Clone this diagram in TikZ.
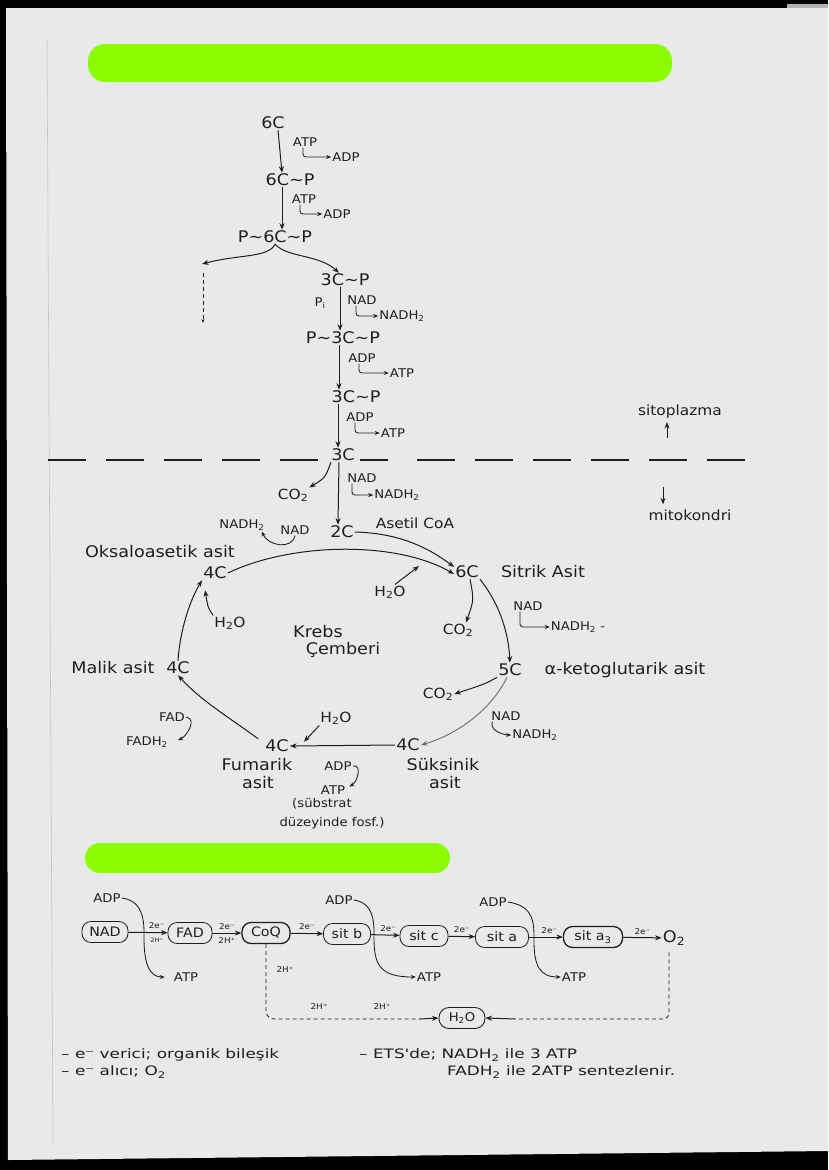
\documentclass[tikz,border=0pt]{standalone}
\usepackage{fontspec}
\setmainfont{DejaVu Sans}[FakeStretch=1.1]
\newfontfamily\widefont{DejaVu Sans}[FakeStretch=1.3]
\usetikzlibrary{arrows.meta}
\definecolor{ink}{RGB}{30,30,30}
\definecolor{page}{RGB}{233,233,233}
\definecolor{hl}{RGB}{140,252,0}
\definecolor{grayarc}{RGB}{115,115,115}
\tikzset{
  ar/.style={draw=ink, line width=1pt, -{Stealth[length=6.5pt,width=5pt]}},
  hk/.style={draw=ink, line width=0.85pt, -{Stealth[length=5pt,width=4pt]}, rounded corners=3pt},
  dsh/.style={draw=ink, line width=0.8pt, dash pattern=on 4pt off 3pt},
  lb/.style={text=ink, inner sep=1pt, font=\fontsize{16}{18}\selectfont},
  mdl/.style={text=ink, inner sep=1pt, font=\fontsize{14}{16}\selectfont},
  sm/.style={text=ink, inner sep=1pt, font=\fontsize{12}{14}\selectfont},
  tn/.style={text=ink, inner sep=1pt, font=\fontsize{8}{9}\selectfont},
  bt/.style={text=ink, inner sep=1pt, font=\widefont\fontsize{13}{15}\selectfont},
  ebox/.style={draw=ink, line width=0.8pt, rounded corners=9pt, minimum height=21pt,
    inner xsep=3pt, inner ysep=1pt, text=ink, font=\fontsize{13}{15}\selectfont},
}
\begin{document}
\begin{tikzpicture}[x=1pt,y=-1pt]
\useasboundingbox (0,0) rectangle (828,1170);
% photo frame and page
\fill[black] (0,0) rectangle (828,1170);
\fill[page] (6,8) -- (828,8) -- (828,1151) -- (8,1160) -- cycle;
\fill[gray!60] (787,4) rectangle (828,8);
\draw[gray!45, line width=0.6pt] (47,40) -- (53,1143);
% highlighter bars
\fill[hl, rounded corners=17pt] (88,44) rectangle (672,82);
\fill[hl, rounded corners=15pt] (85,843) rectangle (450,873);

% ---------- glycolysis ----------
\node[lb] (g1) at (273,123) {6C};
\node[sm] (atp1) at (305,142) {ATP};
\node[sm] (adp1) at (346,157) {ADP};
\node[lb] (g2) at (290,180) {6C∼P};
\node[sm] (atp2) at (304,199) {ATP};
\node[sm] (adp2) at (337,214) {ADP};
\node[lb] (g3) at (275,237) {P∼6C∼P};
\draw[ar] ([xshift=5pt]g1.south) -- ([xshift=-8pt]g2.north);
\draw[hk] ([xshift=-2pt]atp1.south) |- (adp1.west);
\draw[ar] ([xshift=-8pt]g2.south) -- ([xshift=7pt]g3.north);
\draw[hk] ([xshift=-4pt]atp2.south) |- (adp2.west);

\node[lb] (c1) at (345,280) {3C∼P};
\coordinate (bl) at (202,264);
\coordinate (dl0) at (203,273);
\coordinate (dl) at (203,323);
\draw[ar] (g3.south) .. controls (268,258) and (240,254) .. (bl);
\draw[ar] (g3.south) .. controls (288,258) and (318,254) .. ([xshift=-6pt]c1.north);
\draw[dsh, -{Stealth[length=4pt,width=3pt]}] (dl0) -- (dl);

\node[sm] (pi) at (320,303) {P\textsubscript{i}};
\node[sm] (nad1) at (362,300) {NAD};
\node[sm] (nadh1) at (402,316) {NADH\textsubscript{2}};
\node[lb] (c2) at (343,338) {P∼3C∼P};
\node[sm] (adp3) at (362,358) {ADP};
\node[sm] (atp3) at (402,373) {ATP};
\node[lb] (c3) at (356,397) {3C∼P};
\node[sm] (adp4) at (360,417) {ADP};
\node[sm] (atp4) at (393,433) {ATP};
\node[lb] (c4) at (343,455) {3C};
\draw[ar] ([xshift=-5pt]c1.south) -- ([xshift=-3pt]c2.north);
\draw[hk] ([xshift=-6pt]nad1.south) |- (nadh1.west);
\draw[ar] ([xshift=-4pt]c2.south) -- ([xshift=-17pt]c3.north);
\draw[hk] ([xshift=-3pt]adp3.south) |- (atp3.west);
\draw[ar] ([xshift=-18pt]c3.south) -- ([xshift=-5pt]c4.north);
\draw[hk] ([xshift=-5pt]adp4.south) |- (atp4.west);

% cytoplasm / mitochondria boundary
\draw[ink, line width=1.1pt, dash pattern=on 38pt off 20pt] (48,460) -- (320,460);
\draw[ink, line width=1.1pt] (360,460) -- (388,460);
\draw[ink, line width=1.1pt, dash pattern=on 38pt off 20pt] (417,460) -- (745,460);
\node[mdl] (sito) at (680,412) {sitoplazma};
\node[mdl] (mito) at (690,515) {mitokondri};
\draw[ar] ([xshift=-13pt,yshift=-18pt]sito.south) -- ([xshift=-13pt,yshift=-2pt]sito.south);
\draw[ar] ([xshift=-27pt,yshift=21pt]mito.north) -- ([xshift=-27pt,yshift=4pt]mito.north);

% ---------- pyruvate to acetyl CoA ----------
\node[mdl] (co2a) at (293,495) {CO\textsubscript{2}};
\node[sm] (nad2) at (362,478) {NAD};
\node[sm] (nadh2) at (397,495) {NADH\textsubscript{2}};
\node[lb] (c5) at (342,532) {2C};
\draw[ar] ([xshift=-4pt]c4.south) -- ([xshift=-4pt]c5.north);
\draw[ar] ([xshift=-12pt]c4.south) .. controls (325,478) .. (co2a.north east);
\draw[hk] ([xshift=-10pt]nad2.south) |- (nadh2.west);
\node[sm] (nad3) at (295,530) {NAD};
\node[sm] (nadh3) at (242,525) {NADH\textsubscript{2}};
\draw[hk] (nad3.south) .. controls (292,550) and (268,546) .. ([xshift=-4pt]nadh3.south east);
\node[mdl] (acoa) at (415,523) {Asetil CoA};

% ---------- Krebs cycle ----------
\node[lb] (oaa) at (160,552) {Oksaloasetik asit};
\node[lb] (k1) at (215,573) {4C};
\node[lb] (k6) at (467,572) {6C};
\node[lb] (sitrik) at (543,572) {Sitrik Asit};
\draw[ar] (c5.east) .. controls (395,533) and (425,545) .. ([yshift=5pt]k6.west);
\draw[ar] (k1.east) .. controls (290,543) and (395,540) .. ([yshift=-2pt]k6.west);
\node[mdl] (w1) at (390,592) {H\textsubscript{2}O};
\coordinate (w1t) at (419,566);
\draw[ar] ([xshift=5pt]w1.north) -- (w1t);
\node[mdl] (co2b) at (458,630) {CO\textsubscript{2}};
\draw[ar] ([xshift=3pt]k6.south) .. controls (474,600) .. ([xshift=8pt]co2b.north);
\node[lb] (k5) at (510,670) {5C};
\node[lb] (akg) at (625,670) {α-ketoglutarik asit};
\draw[ar] (k6.south east) .. controls (495,598) and (508,625) .. (k5.north);
\node[sm] (nad4) at (528,606) {NAD};
\node[sm] (nadh4) at (578,627) {NADH\textsubscript{2} -};
\draw[hk] ([xshift=-8pt]nad4.south) |- (nadh4.west);
\node[mdl] (co2c) at (438,694) {CO\textsubscript{2}};
\draw[ar] (k5.south west) .. controls (485,684) .. (co2c.east);
\node[lb] (k4s) at (408,745) {4C};
\node[lb] (suk1) at (443,765) {Süksinik};
\node[lb] (suk2) at (445,783) {asit};
\draw[ar, draw=grayarc] ([xshift=-3pt]k5.south) .. controls (490,712) and (455,735) .. (k4s.east);
\node[sm] (nad5) at (506,716) {NAD};
\node[sm] (nadh5) at (535,735) {NADH\textsubscript{2}};
\draw[hk] ([xshift=2pt]nad5.south west) .. controls +(-3,10) and +(-6,0) .. (nadh5.west);
\node[lb] (k4f) at (277,746) {4C};
\node[lb] (fum1) at (257,765) {Fumarik};
\node[lb] (fum2) at (258,783) {asit};
\draw[ar] (k4s.west) -- (k4f.east);
\node[mdl] (w2) at (336,718) {H\textsubscript{2}O};
\draw[ar] (w2.south west) -- ([xshift=14pt,yshift=-3pt]k4f.north east);
\node[sm] (adp5) at (338,766) {ADP};
\node[sm] (atp5) at (333,790) {ATP};
\draw[hk] (adp5.east) .. controls +(10,-2) and +(8,-4) .. ([xshift=3pt,yshift=-2pt]atp5.north east);
\node[sm] (sub1) at (322,804) {(sübstrat};
\node[sm] (sub2) at (332,823) {düzeyinde fosf.)};
\node[lb] (malik) at (113,668) {Malik asit};
\node[lb] (k4m) at (178,668) {4C};
\draw[ar] ([xshift=-6pt]k4f.north west) .. controls (230,718) and (200,700) .. (k4m.south);
\node[sm] (fadK) at (172,717) {FAD};
\node[sm] (fadhK) at (147,742) {FADH\textsubscript{2}};
\draw[hk] (fadK.east) .. controls +(12,2) and +(8,-3) .. ([xshift=9pt,yshift=2pt]fadhK.east);
\draw[ar] (k4m.north) .. controls (180,630) and (190,600) .. (k1.south west);
\node[mdl] (w3) at (230,623) {H\textsubscript{2}O};
\draw[ar] (w3.north west) .. controls (208,608) .. ([xshift=3pt,yshift=-10pt]k1.south west);
\node[lb] (krebs) at (318,632) {Krebs};
\node[lb] (cember) at (343,650) {Çemberi};

% ---------- electron transport ----------
\node[ebox, minimum width=46pt] (e1) at (105,932) {NAD};
\node[ebox, minimum width=44pt] (e2) at (190,933) {FAD};
\node[ebox, line width=1.3pt, minimum width=48pt] (e3) at (266,933) {CoQ};
\node[ebox, minimum width=47pt] (e4) at (347,934) {sit b};
\node[ebox, minimum width=48pt] (e5) at (424,936) {sit c};
\node[ebox, minimum width=53pt] (e6) at (502,937) {sit a};
\node[ebox, line width=1.3pt, minimum width=59pt] (e7) at (593,937) {sit a\textsubscript{3}};
\node[lb] (o2) at (674,938) {O\textsubscript{2}};
\draw[ar] (e1) -- node[tn, above=3pt, pos=0.72] {2e⁻} node[tn, below=4pt, pos=0.72, font=\fontsize{6}{7}\selectfont] {2H⁺} (e2);
\draw[ar] (e2) -- node[tn, above=2pt] {2e⁻} node[tn, below=3pt] {2H⁺} (e3);
\draw[ar] (e3) -- node[tn, above=2pt] {2e⁻} (e4);
\draw[ar] (e4) -- node[tn, above=2pt, pos=0.6] {2e⁻} (e5);
\draw[ar] (e5) -- node[tn, above=2pt] {2e⁻} (e6);
\draw[ar] (e6) -- node[tn, above=2pt, pos=0.6] {2e⁻} (e7);
\draw[ar] (e7) -- node[tn, above=2pt] {2e⁻} (o2);

\node[sm] (ea1) at (107,898) {ADP};
\node[sm] (et1) at (186,977) {ATP};
\draw[hk] (ea1.east) .. controls (138,900) and (144,912) .. (144,935) .. controls (144,965) and (150,977) .. ([xshift=-8pt]et1.west);
\node[sm] (ea2) at (339,900) {ADP};
\node[sm] (et2) at (429,977) {ATP};
\draw[hk] (ea2.east) .. controls (368,902) and (374,912) .. (374,935) .. controls (374,965) and (380,977) .. (et2.west);
\node[sm] (ea3) at (493,902) {ADP};
\node[sm] (et3) at (574,977) {ATP};
\draw[hk] (ea3.east) .. controls (528,905) and (534,915) .. (534,938) .. controls (534,966) and (540,977) .. (et3.west);

\node[draw=ink, line width=0.9pt, rounded corners=10pt, minimum width=46pt, minimum height=21pt,
  inner sep=1pt, text=ink, font=\fontsize{12}{14}\selectfont] (wE) at (462,1018) {H\textsubscript{2}O};
\node[tn] (hp1) at (285,970) {2H⁺};
\node[tn] (hp2) at (319,1007) {2H⁺};
\node[tn] (hp3) at (382,1007) {2H⁺};
\coordinate (lc) at (420,1019);
\coordinate (rc) at (515,1019);
\draw[dsh, rounded corners=8pt] (e3.south) |- (lc);
\draw[ar] (lc) -- (wE.west);
\draw[dsh, rounded corners=6pt] ([xshift=-5pt,yshift=-6pt]o2.south) |- (rc);
\draw[ar] (rc) -- (wE.east);

% ---------- notes ----------
\node[bt, anchor=west] (t1) at (60,1055) {– e⁻ verici; organik bileşik};
\node[bt, anchor=west] (t2) at (60,1072) {– e⁻ alıcı; O\textsubscript{2}};
\node[bt, anchor=west] (t3) at (358,1055) {– ETS'de; NADH\textsubscript{2} ile 3 ATP};
\node[bt, anchor=west] (t4) at (446,1072) {FADH\textsubscript{2} ile 2ATP sentezlenir.};
\end{tikzpicture}
\end{document}
